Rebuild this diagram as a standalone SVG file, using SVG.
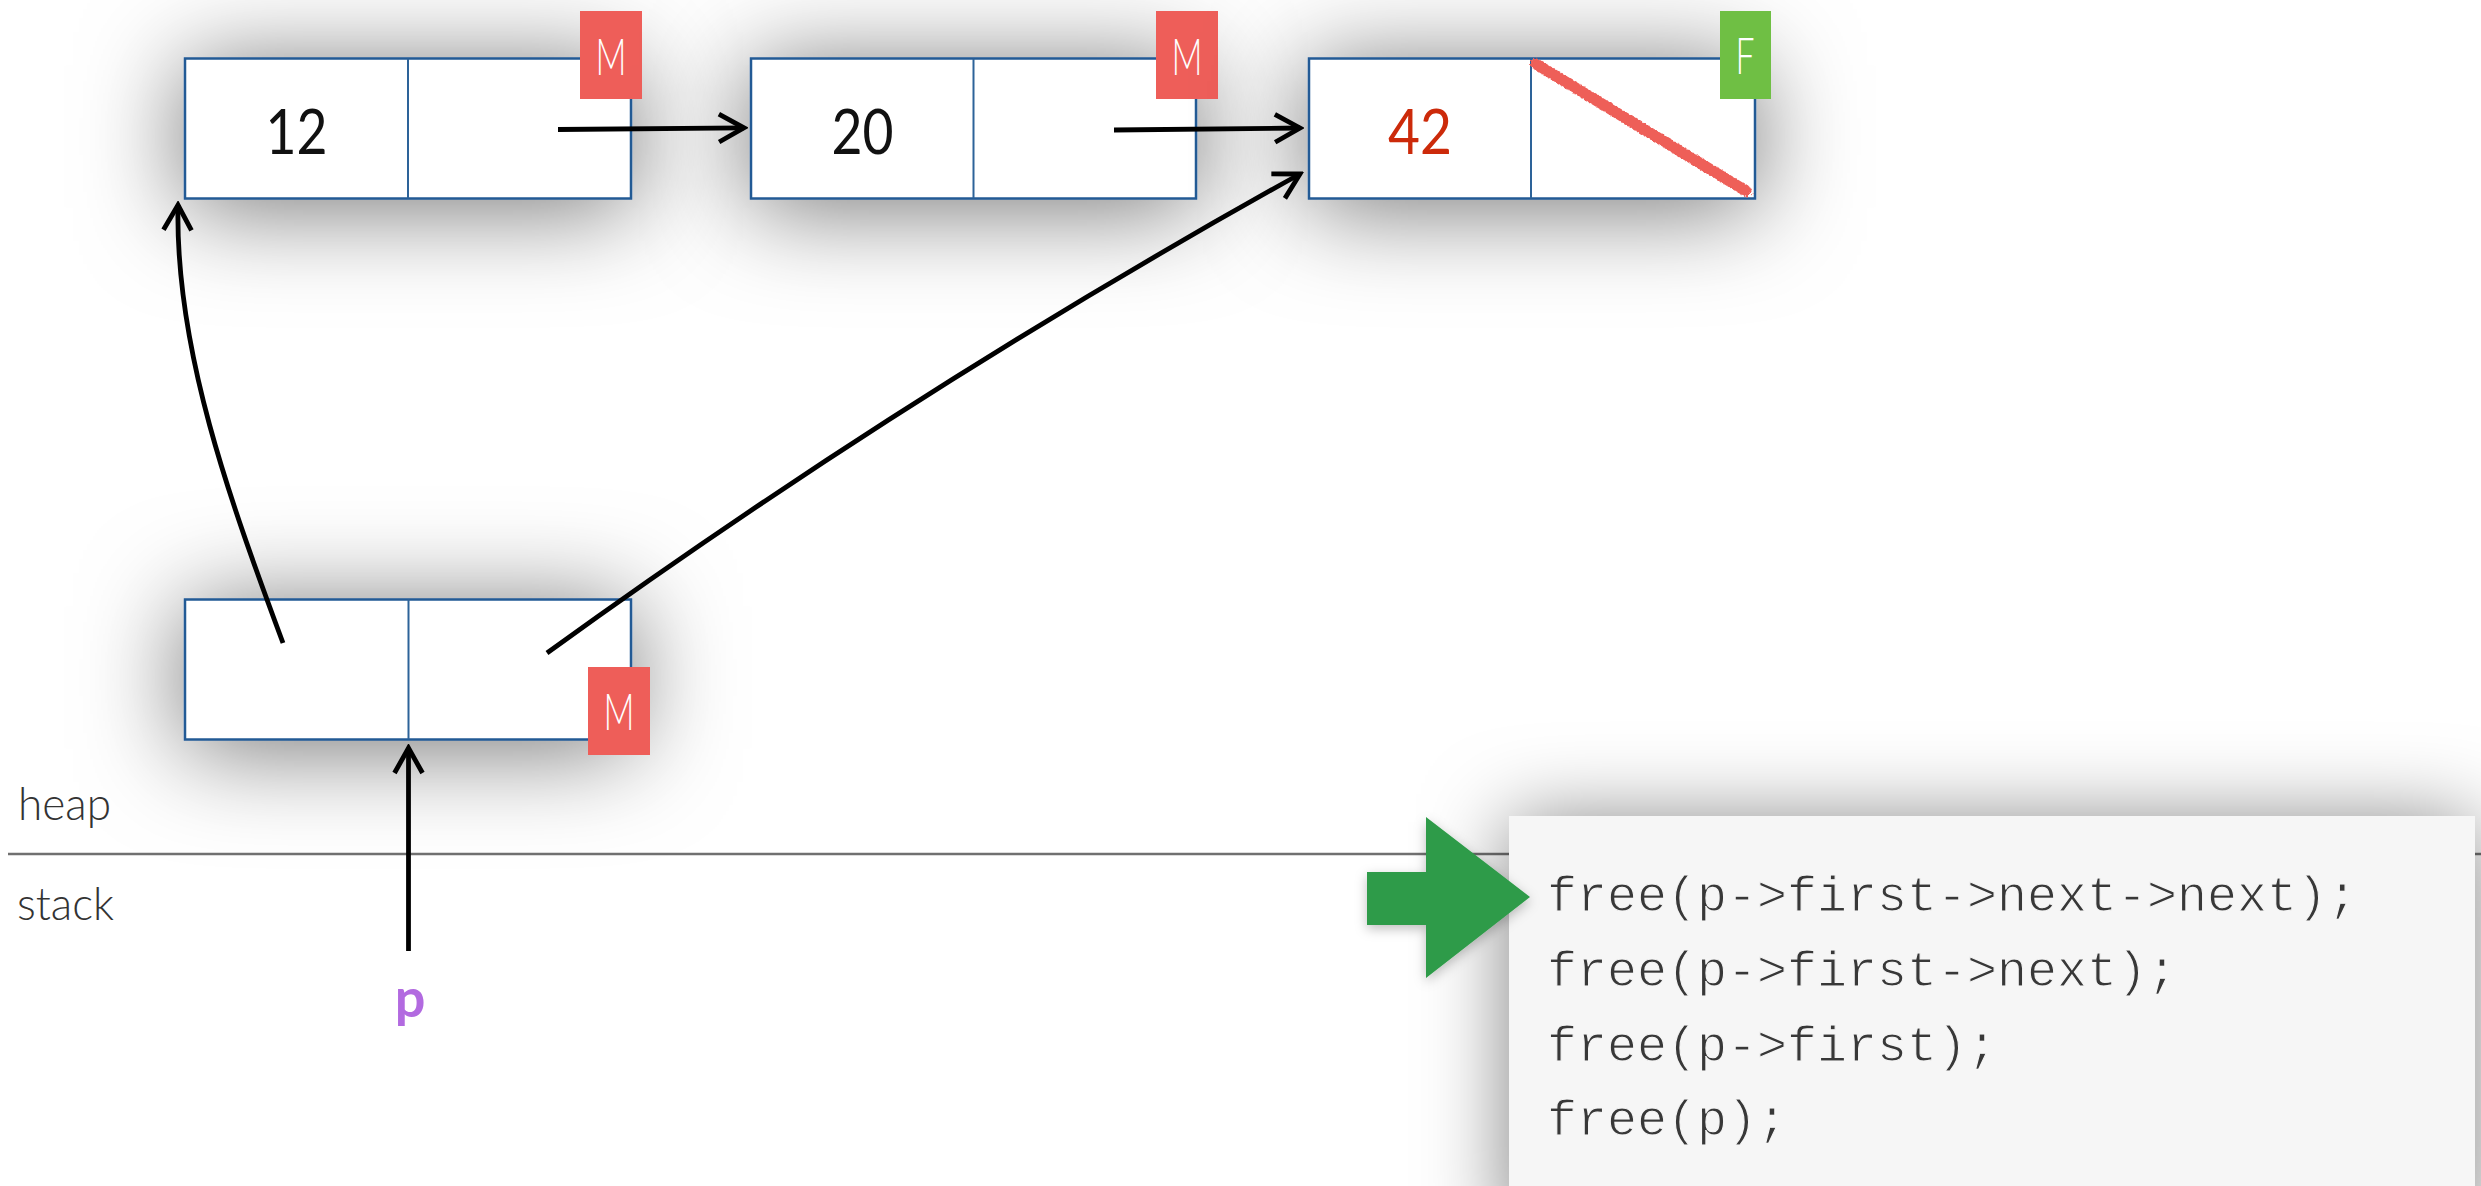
<svg xmlns="http://www.w3.org/2000/svg" width="2481" height="1186" viewBox="0 0 2481 1186">
<defs>
<style>
.box{fill:#ffffff;stroke:#235a95;stroke-width:2.5}
.div{stroke:#2d6399;stroke-width:2}
.val{font-family:Lato,"Liberation Sans",sans-serif;font-weight:400;font-size:62px;text-anchor:middle;fill:#111}
.tagM{fill:#ee5e59}
.tagF{fill:#6fbf44}
.tagt{font-family:Lato,"Liberation Sans",sans-serif;font-weight:300;font-size:52px;fill:#ffffff;text-anchor:middle}
.lbl{font-family:Lato,"Liberation Sans",sans-serif;font-weight:300;font-size:45px;fill:#333}
.code{font-family:"Liberation Mono","DejaVu Sans Mono",monospace;font-size:50px;fill:#383838;stroke:#f6f6f6;stroke-width:1.1}
.conn{fill:none;stroke:#000;stroke-width:4.8}
</style>
<filter id="sh" x="-45%" y="-130%" width="190%" height="370%">
<feDropShadow dx="0" dy="8" stdDeviation="50" flood-color="#000" flood-opacity="0.55"/>
</filter>
<filter id="sh2" x="-20%" y="-50%" width="140%" height="200%">
<feDropShadow dx="0" dy="6" stdDeviation="42" flood-color="#000" flood-opacity="0.5"/>
</filter>
<filter id="sh3" x="-30%" y="-30%" width="160%" height="160%">
<feDropShadow dx="0" dy="4" stdDeviation="6" flood-color="#000" flood-opacity="0.25"/>
</filter>
<filter id="rough" x="-10%" y="-20%" width="120%" height="140%">
<feTurbulence type="fractalNoise" baseFrequency="0.45" numOctaves="2" seed="3" result="n"/>
<feDisplacementMap in="SourceGraphic" in2="n" scale="7"/>
</filter>
<marker id="ah" viewBox="-30 -18 34 36" refX="0" refY="0" markerWidth="34" markerHeight="36" markerUnits="userSpaceOnUse" orient="auto">
<path d="M -25 -14 L 0 0 L -25 14" fill="none" stroke="#000" stroke-width="4.8"/>
</marker>
</defs>
<rect width="2481" height="1186" fill="#ffffff"/>

<g id="heap-stack">
<line x1="8" y1="854" x2="2481" y2="854" stroke="#707070" stroke-width="2.5"/>
<text class="lbl" x="18" y="820" textLength="93" lengthAdjust="spacingAndGlyphs">heap</text>
<text class="lbl" x="17" y="920" textLength="97" lengthAdjust="spacingAndGlyphs">stack</text>
</g>

<g id="node-12">
<rect class="box" x="185" y="58.5" width="446" height="140" filter="url(#sh)"/>
<line class="div" x1="408" y1="58.5" x2="408" y2="198.5"/>
<text class="val" x="296.5" y="154" textLength="62" lengthAdjust="spacingAndGlyphs">12</text>
<rect class="tagM" x="580" y="11" width="62" height="88"/>
<text class="tagt" x="611" y="75" textLength="31" lengthAdjust="spacingAndGlyphs">M</text>
</g>

<g id="node-20">
<rect class="box" x="751" y="58.5" width="445" height="140" filter="url(#sh)"/>
<line class="div" x1="973.5" y1="58.5" x2="973.5" y2="198.5"/>
<text class="val" x="862.5" y="154" textLength="62" lengthAdjust="spacingAndGlyphs">20</text>
<rect class="tagM" x="1156" y="11" width="62" height="88"/>
<text class="tagt" x="1187" y="75" textLength="31" lengthAdjust="spacingAndGlyphs">M</text>
</g>

<g id="node-42">
<rect class="box" x="1309" y="58.5" width="446" height="140" filter="url(#sh)"/>
<line class="div" x1="1531" y1="58.5" x2="1531" y2="198.5"/>
<text class="val" x="1420" y="154" textLength="64" lengthAdjust="spacingAndGlyphs" style="fill:#cc2a0a">42</text>
<path d="M 1536 64 L 1746 191" stroke="#ee5e59" stroke-width="11" stroke-linecap="round" fill="none" filter="url(#rough)"/>
<rect class="tagF" x="1720" y="11" width="51" height="88"/>
<text class="tagt" x="1745" y="74" font-size="50" textLength="19" lengthAdjust="spacingAndGlyphs">F</text>
</g>

<g id="node-list">
<rect class="box" x="185" y="599.5" width="446" height="140" filter="url(#sh)"/>
<line class="div" x1="408.5" y1="599.5" x2="408.5" y2="739.5"/>
<rect class="tagM" x="588" y="667" width="62" height="88"/>
<text class="tagt" x="619" y="730" textLength="31" lengthAdjust="spacingAndGlyphs">M</text>
</g>

<g id="connectors">
<path class="conn" d="M 558 129.5 L 744 127.8" marker-end="url(#ah)"/>
<path class="conn" d="M 1114 130 L 1300 128" marker-end="url(#ah)"/>
<path class="conn" d="M 547 653 Q 909 391 1300 174" marker-end="url(#ah)"/>
<path class="conn" d="M 283 643 C 230 500 175 350 178 205" marker-end="url(#ah)"/>
<path class="conn" d="M 408.5 951 L 408.5 748" marker-end="url(#ah)"/>
</g>

<g id="var-p">
<text x="410" y="1017" font-family="Lato,'Liberation Sans',sans-serif" font-weight="700" font-size="54" fill="#b26ae0" text-anchor="middle">p</text>
</g>

<g id="code">
<rect x="1509" y="816" width="966" height="420" fill="#f6f6f6" filter="url(#sh2)"/>
<text class="code" x="1547" y="911">free(p-&gt;first-&gt;next-&gt;next);</text>
<text class="code" x="1547" y="986">free(p-&gt;first-&gt;next);</text>
<text class="code" x="1547" y="1061">free(p-&gt;first);</text>
<text class="code" x="1547" y="1135">free(p);</text>
</g>

<g id="pointer-arrow">
<polygon points="1367,872 1426,872 1426,817 1530,897 1426,978 1426,925 1367,925" fill="#2e9b48" filter="url(#sh3)"/>
</g>
</svg>
